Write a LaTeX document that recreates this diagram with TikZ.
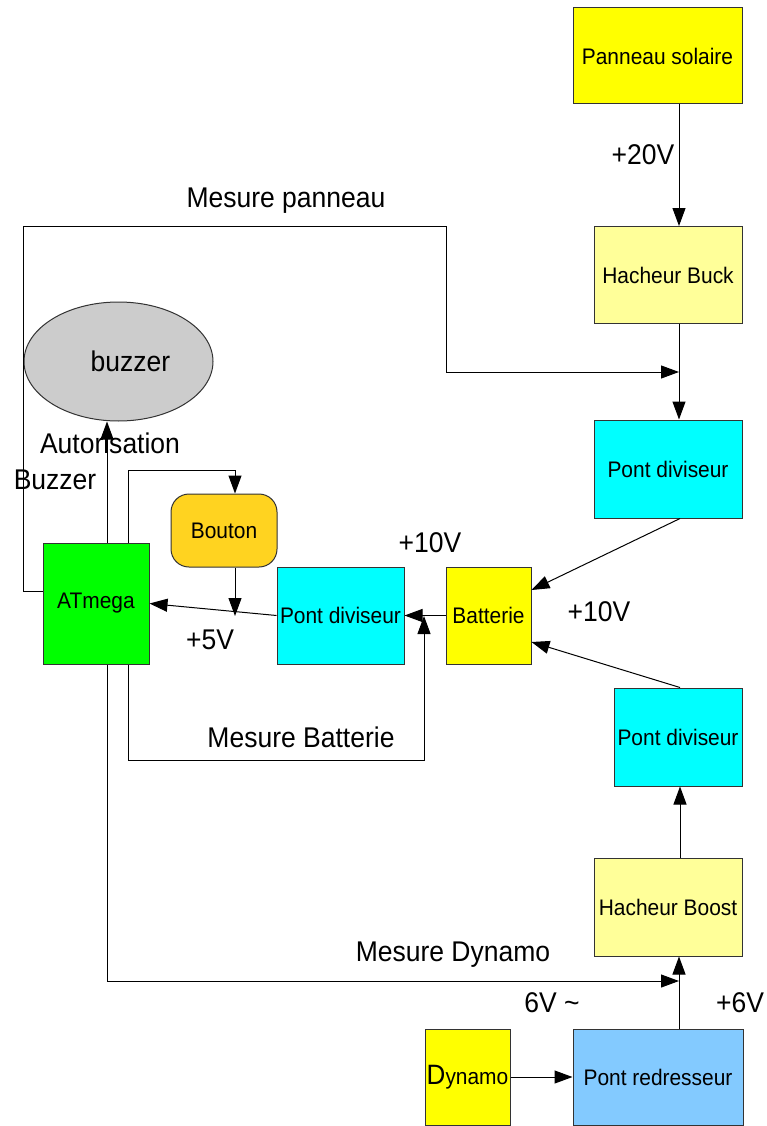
\documentclass[tikz,border=0pt]{standalone}
\usepackage{fontspec}
\setmainfont[FakeStretch=0.93]{Liberation Sans}
\usetikzlibrary{arrows.meta,shapes.geometric}
\definecolor{cyanb}{HTML}{00FFFF}
\definecolor{yelb}{HTML}{FFFF00}
\definecolor{lyel}{HTML}{FFFF99}
\definecolor{greenb}{HTML}{00FF00}
\definecolor{boutonc}{HTML}{FFD320}
\definecolor{buzc}{HTML}{CCCCCC}
\definecolor{bluec}{HTML}{83CAFF}
\definecolor{edgec}{HTML}{333333}
\tikzset{
  blk/.style={draw=edgec,line width=1pt,inner sep=0pt,font=\fontsize{22.5}{25}\selectfont},
  lbl/.style={inner sep=0pt,font=\fontsize{28.5}{32}\selectfont},
  arr/.style={draw=black,line width=1pt,-{Triangle[length=18pt,width=13pt]}},
  ln/.style={draw=black,line width=1pt}
}
\begin{document}
\begin{tikzpicture}[x=1pt,y=-1pt]
\useasboundingbox[fill=white] (0,0) rectangle (767,1126);
% blocks
\node[blk,fill=yelb,minimum width=169pt,minimum height=96pt] (pan) at (657.5,56) {Panneau solaire};
\node[blk,fill=lyel,minimum width=148pt,minimum height=97pt] (buck) at (668,275) {Hacheur Buck};
\node[blk,fill=cyanb,minimum width=148pt,minimum height=98pt] (pd1) at (668,469) {Pont diviseur};
\node[blk,fill=yelb,minimum width=85pt,minimum height=97pt] (bat) at (488.5,615.5) {Batterie};
\node[blk,fill=cyanb,minimum width=127pt,minimum height=97pt] (pd2) at (340.5,615.5) {Pont diviseur};
\node[blk,fill=greenb,minimum width=106pt,minimum height=121pt] (atm) at (96,603.5) {ATmega};
\node[blk,fill=boutonc,minimum width=106pt,minimum height=73pt,rounded corners=18pt] (bou) at (224,530.5) {Bouton};
\node[blk,ellipse,fill=buzc,minimum width=189pt,minimum height=119pt,font=\fontsize{28.5}{32}\selectfont] (buz) at (118.5,361.5) {\hspace*{24pt}buzzer};
\node[blk,fill=cyanb,minimum width=128pt,minimum height=98pt] (pd3) at (678,737) {Pont diviseur};
\node[blk,fill=lyel,minimum width=148pt,minimum height=98pt] (boost) at (668,907) {Hacheur Boost};
\node[blk,fill=bluec,minimum width=170pt,minimum height=96pt] (red) at (658,1077) {Pont redresseur};
\node[blk,fill=yelb,minimum width=85pt,minimum height=96pt] (dyn) at (467.5,1077) {{\fontsize{28}{30}\selectfont D}ynamo};
% helper coordinates
\coordinate (xr) at (679,0);
\coordinate (xr2) at (680,0);
\coordinate (pA) at (23,591);
\coordinate (pB) at (23,226);
\coordinate (pC) at (446,226);
\coordinate (pD) at (446,372);
\coordinate (xa) at (107,0);
\coordinate (xb) at (128,0);
\coordinate (xc) at (235,0);
\coordinate (xd) at (424,0);
\coordinate (yb) at (0,470);
\coordinate (ym) at (0,760);
\coordinate (yd) at (0,981);
\coordinate (yl) at (0,616);
\coordinate (yu) at (0,590);
\coordinate (yw) at (0,642);
% connectors
\draw[arr] (xr |- pan.south) -- (xr |- buck.north);
\draw[arr] (xr |- buck.south) -- (xr |- pd1.north);
\draw[arr] (atm.west |- pA) -- (pA) -- (pB) -- (pC) -- (pD) -- (xr |- pD);
\draw[arr] (xr2 |- pd1.south) -- (bat.east |- yu);
\draw[arr] (xr2 |- pd3.north) -- (bat.east |- yw);
\draw[arr] (xr2 |- boost.north) -- (xr2 |- pd3.south);
\draw[arr] (xr |- red.north) -- (xr |- boost.south);
\draw[arr] (dyn.east) -- (red.west);
\draw[arr] (xa |- atm.south) -- (xa |- yd) -- (xr |- yd);
\draw[arr] (bat.west) -- (pd2.east);
\draw[arr] (xb |- atm.south) -- (xb |- ym) -- (xd |- ym) -- (xd |- yl);
\draw[arr] (pd2.west) -- (atm.east);
\draw[arr] (xc |- bou.south) -- (xc |- yl);
\draw[arr] (xb |- atm.north) -- (xb |- yb) -- (xc |- yb) -- (xc |- bou.north);
\draw[arr] (xa |- atm.north) -- (xa |- buz.south);
% labels
\node[lbl] (l20) at (643,155) {+20V};
\node[lbl] (lmp) at (286,201) {Mesure panneau};
\node[lbl] (laut) at (110,443) {Autorisation};
\node[lbl] (lbuz) at (55,480) {Buzzer};
\node[lbl] (l10a) at (430,543) {+10V};
\node[lbl] (l10b) at (599,612) {+10V};
\node[lbl] (l5) at (210,640) {+5V};
\node[lbl] (lmb) at (301,737) {Mesure Batterie};
\node[lbl] (lmd) at (453,955) {Mesure Dynamo};
\node[lbl] (l6a) at (552,1003) {6V \textasciitilde};
\node[lbl] (l6b) at (740,1003) {+6V};
\end{tikzpicture}
\end{document}
